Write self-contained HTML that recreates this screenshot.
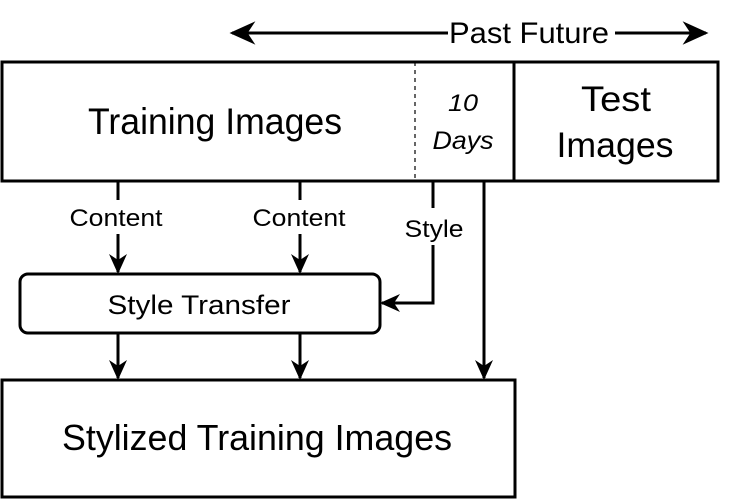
<!DOCTYPE html>
<html><head><style>body{margin:0;background:#fff}svg{display:block}</style></head>
<body>
<svg width="732" height="501" viewBox="0 0 732 501" xmlns="http://www.w3.org/2000/svg" font-family="Liberation Sans, sans-serif">
<defs>
<marker id="b" viewBox="0 0 10 10" refX="9" refY="5" markerWidth="20" markerHeight="20" markerUnits="userSpaceOnUse" orient="auto">
<path d="M0,0.5 L10,5 L0,9.5 L3,5 z" fill="#000"/></marker>
<marker id="c" viewBox="0 0 10 10" refX="9" refY="5" markerWidth="26" markerHeight="26" markerUnits="userSpaceOnUse" orient="auto">
<path d="M0,0.5 L10,5 L0,9.5 L3,5 z" fill="#000"/></marker>
</defs>
<g stroke="#000" fill="none" stroke-width="3">
<line x1="448" y1="33" x2="232" y2="33" marker-end="url(#c)"/>
<line x1="615" y1="33" x2="706" y2="33" marker-end="url(#c)"/>
<rect x="2" y="62" width="716" height="119"/>
<line x1="514" y1="62" x2="514" y2="181"/>
<line x1="415" y1="62" x2="415" y2="181" stroke-width="1.2" stroke-dasharray="4,4"/>
<rect x="20" y="274" width="360" height="59" rx="8"/>
<rect x="2" y="380" width="513" height="117"/>
<line x1="118" y1="182" x2="118" y2="200"/>
<line x1="118" y1="234" x2="118" y2="272" marker-end="url(#b)"/>
<line x1="300" y1="182" x2="300" y2="200"/>
<line x1="300" y1="234" x2="300" y2="272" marker-end="url(#b)"/>
<line x1="433" y1="182" x2="433" y2="208"/>
<polyline points="433,245 433,303 382,303" marker-end="url(#b)"/>
<line x1="484" y1="182" x2="484" y2="378" marker-end="url(#b)"/>
<line x1="118" y1="334" x2="118" y2="378" marker-end="url(#b)"/>
<line x1="300" y1="334" x2="300" y2="378" marker-end="url(#b)"/>
</g>
<g fill="#000" text-anchor="middle">
<text x="529" y="43" font-size="30" textLength="160" lengthAdjust="spacingAndGlyphs">Past  Future</text>
<text x="215" y="134" font-size="37" textLength="254" lengthAdjust="spacingAndGlyphs">Training Images</text>
<text x="463" y="111" font-size="24" font-style="italic" textLength="30" lengthAdjust="spacingAndGlyphs">10</text>
<text x="463" y="149" font-size="25" font-style="italic" textLength="61" lengthAdjust="spacingAndGlyphs">Days</text>
<text x="616" y="111" font-size="35" textLength="70" lengthAdjust="spacingAndGlyphs">Test</text>
<text x="615" y="157" font-size="35" textLength="117" lengthAdjust="spacingAndGlyphs">Images</text>
<text x="116" y="226" font-size="24" textLength="93" lengthAdjust="spacingAndGlyphs">Content</text>
<text x="299" y="226" font-size="24" textLength="93" lengthAdjust="spacingAndGlyphs">Content</text>
<text x="434" y="237" font-size="24" textLength="59" lengthAdjust="spacingAndGlyphs">Style</text>
<text x="199" y="314" font-size="27" textLength="183" lengthAdjust="spacingAndGlyphs">Style Transfer</text>
<text x="257" y="450" font-size="36" textLength="390" lengthAdjust="spacingAndGlyphs">Stylized Training Images</text>
</g>
</svg>
</body></html>
